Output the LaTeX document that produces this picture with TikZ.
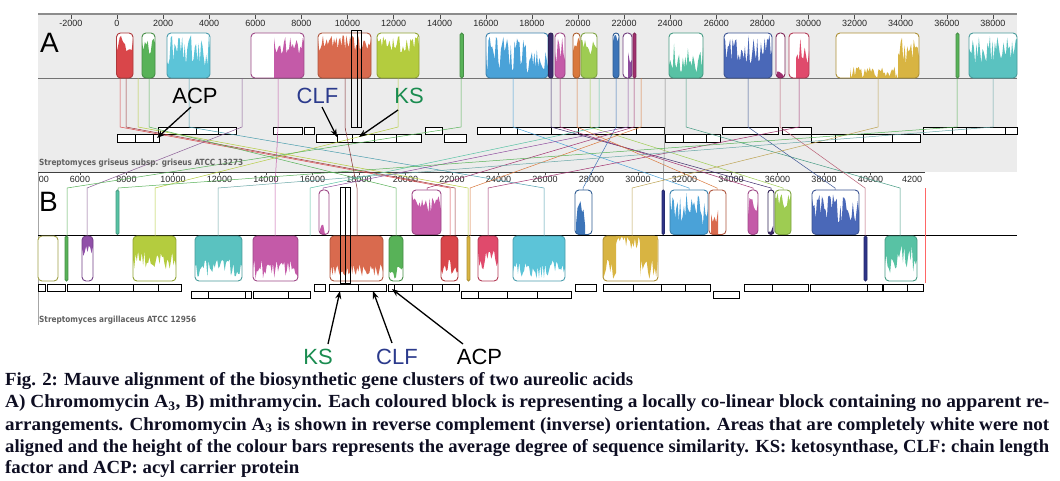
\documentclass[tikz,border=0pt]{standalone}
\usepackage{fontspec}
\setmainfont{Liberation Serif}
\setsansfont{Liberation Sans}
\newfontfamily\capfont{Liberation Serif}
\newfontfamily\uifont{Liberation Sans}
\newfontfamily\spfont{DejaVu Sans}
\usetikzlibrary{arrows.meta}
\definecolor{panelgrey}{HTML}{ECECEC}
\definecolor{capcol}{HTML}{0E0E22}
\definecolor{cRed}{HTML}{D9464A}
\definecolor{cGreen}{HTML}{58B258}
\definecolor{cCyan}{HTML}{5CC4D8}
\definecolor{cMag}{HTML}{C45AA8}
\definecolor{cOrg}{HTML}{D96A4E}
\definecolor{cYG}{HTML}{B4CC3E}
\definecolor{cBlue}{HTML}{4AA2D8}
\definecolor{cNavyT}{HTML}{3C2A6A}
\definecolor{cOrg2}{HTML}{D9783C}
\definecolor{cYG2}{HTML}{9ECC52}
\definecolor{cBlue2}{HTML}{3C74B8}
\definecolor{cPur}{HTML}{8E4C9E}
\definecolor{cDMag}{HTML}{A0306E}
\definecolor{cTeal}{HTML}{58C2A4}
\definecolor{cNavy}{HTML}{4A68B8}
\definecolor{cPink}{HTML}{E04A6C}
\definecolor{cGold}{HTML}{D8B442}
\definecolor{cTeal2}{HTML}{5AC2C0}
\definecolor{cNavy2}{HTML}{2E3488}
\definecolor{cPurB}{HTML}{9050A8}
\definecolor{cYel}{HTML}{C8C85A}
\definecolor{clfcol}{HTML}{2B3A8C}
\definecolor{kscol}{HTML}{1A8C50}
\pgfmathsetseed{7}
% profile fill: fx1 fx2 color lo hi (uses \base, \hh)
\newcommand\prof[5]{%
  \pgfmathtruncatemacro\ns{max(3,(#2-#1)/1.2)}%
  \fill[#3] (#1,\base) -- plot[domain=#1:#2,samples=\ns] (\x,{\base+\hh*(#4+(#5-#4)*rnd)}) -- (#2,\base) -- cycle;}
% block: x1 x2 ytop ybot color lo hi fx1 fx2
\newcommand\blk[9]{%
  \pgfmathsetmacro\rc{min(4,(#2-#1)/2)}%
  \begin{scope}
    \clip[rounded corners=\rc pt] (#1,#3) rectangle (#2,#4);
    \fill[white] (#1,#3) rectangle (#2,#4);
    \prof{#8}{#9}{#5}{#6}{#7}
  \end{scope}
  \draw[#5!80!black, line width=0.9pt, rounded corners=\rc pt] (#1,#3) rectangle (#2,#4);}
\newcommand\blkE[5]{%
  \pgfmathsetmacro\rc{min(4,(#2-#1)/2)}%
  \draw[#5!80!black, fill=white, line width=0.9pt, rounded corners=\rc pt] (#1,#3) rectangle (#2,#4);}
\tikzset{
  gene/.style={draw=black, fill=white, line width=0.7pt},
  conn/.style={line width=0.5pt},
  ticklab/.style={font=\uifont\fontsize{9}{9}\selectfont, text=black!85, inner sep=0},
  ann/.style={font=\uifont\fontsize{22}{22}\selectfont, inner sep=0, anchor=base},
  annarrow/.style={line width=1.3pt, -{Stealth[length=8pt,width=6pt]}},
  hl/.style={draw=black, line width=0.7pt},
  captext/.style={font=\capfont\bfseries\fontsize{18.5}{22}\selectfont, text=capcol, inner sep=0, anchor=base west},
  species/.style={font=\spfont\bfseries\fontsize{8.5}{8.5}\selectfont, text=black!62, inner sep=0, anchor=west},
  panel/.style={font=\uifont\fontsize{28}{28}\selectfont, inner sep=0, anchor=base west},
}
\begin{document}
\begin{tikzpicture}[x=1pt,y=-1pt]
\useasboundingbox (0,0) rectangle (1060,480);
\fill[white] (0,0) rectangle (1060,480);
% ---------- panel A frame
\fill[panelgrey] (38,14) rectangle (1017,172);
\draw[line width=2pt, draw=black!45] (38,14) -- (1017,14);
\draw[black!55, line width=0.6pt] (38,78) -- (1017,78);
\foreach \k [count=\i] in {-1,0,...,19}{
  \pgfmathsetmacro\px{117+\k*46.1}
  \draw[black!70] (\px,15) -- (\px,19);
  \node[ticklab] (ta\i) at (\px,23) {\the\numexpr\k*2000\relax};}
% ---------- panel B frame
\draw[black!35] (38,172) -- (38,325);
\draw[black!75, line width=0.8pt] (38,172) -- (925,172);
\draw[black, line width=0.7pt] (38,235) -- (1017,235);
\draw[red!60, line width=0.6pt] (925,188) -- (925,283);
\node[ticklab] (tb0) at (44,179) {00};
\foreach \k [count=\i] in {3,4,...,20}{
  \pgfmathsetmacro\px{80+(\k-3)*46.5}
  \draw[black!70] (\px,172) -- (\px,175);
  \node[ticklab] (tb\i) at (\px,179) {\the\numexpr\k*2000\relax};}
\node[ticklab] (tbz) at (912,179) {4200};
% ---------- gene boxes A
\foreach \a/\b in {158/196,196/218,218/236,273/302,304/314,425/442,477/500,500/517,517/551,551/578,578/636,636/664,722/778,782/811,923/952,952/966,966/1005,1005/1017}
  \draw[gene] (\a,127) rectangle (\b,134);
\foreach \a/\b in {117/135,135/153,153/159,316/337,337/352,352/374,374/396,396/421,444/466,665/683,683/706,706/720,811/835,835/863,863/892,892/920}
  \draw[gene] (\a,134) rectangle (\b,142);
% ---------- gene boxes B
\foreach \a/\b in {38/45,47/65,67/99,99/133,133/158,158/181,314/325,329/358,358/386,388/394,394/412,412/442,442/459,575/596,603/633,633/661,661/685,685/710,744/772,772/808,810/867,867/882,883/907,907/923}
  \draw[gene] (\a,284) rectangle (\b,291);
\foreach \a/\b in {191/208,208/245,245/251,253/288,288/310,461/478,478/507,507/537,537/571,713/739}
  \draw[gene] (\a,291) rectangle (\b,298);
% ---------- connections
\foreach \xa/\xb/\ye/\cc in {120/450/236/cRed, 126/455/236/cRed!70!black, 138/468/236/cYG, 149/396/236/cGreen,
  189/544/236/cCyan!80!black, 242/87/236/cPur!70!gray, 278/275/236/cMag, 345/357/236/cRed!60!black, 398/155/236/cYG,
  461/67/236/cGreen, 513/689/190/cBlue, 551/771/190/cNavyT, 560/753/190/cDMag, 577/717/190/cOrg2, 590/783/190/cYG2,
  599/310/236/cTeal, 616/583/190/cBlue2, 628/323/190/cPur, 634/427/190/cDMag, 641/470/236/cOrg2, 665/663/190/black!50,
  686/900/236/cTeal!80!black, 748/835/190/cNavy!80!black, 780/865/236/cPink!60!gray, 799/488/236/cDMag,
  878/632/236/cGold!70!gray, 957/118/190/cGreen, 993/218/236/cTeal2!60!gray}
  \draw[conn,\cc] (\xa,78) -- (\xa,127) -- (\xb,188) -- (\xb,\ye);
% ---------- blocks A (upper)
\def\base{78}\def\hh{-45}
\blk{116.5}{133}{33}{78}{cRed}{0.55}{0.95}{117}{133}
\blk{142}{155}{33}{78}{cGreen}{0.45}{0.9}{142}{155}
\blk{167}{210}{33}{78}{cCyan}{0.25}{0.95}{167}{210}
\blk{251}{304}{33}{78}{cMag}{0.5}{0.95}{274}{304}
\blk{318}{371}{33}{78}{cOrg}{0.6}{0.95}{318}{371}
\blk{377}{419}{33}{78}{cYG}{0.55}{0.95}{377}{419}
\blk{460}{463.5}{33}{78}{cGreen}{1}{1}{460}{463.5}
\blk{486}{548}{33}{78}{cBlue}{0.1}{0.95}{486}{548}
\blk{548.5}{553}{33}{78}{cNavyT}{1}{1}{548.5}{553}
\blk{555}{565}{33}{78}{cMag}{0.3}{0.9}{555}{565}
\blk{573}{580}{33}{78}{cOrg2}{0.5}{0.95}{573}{580}
\blk{581}{597}{33}{78}{cYG2}{0.5}{0.9}{581}{597}
\blk{613}{619}{33}{78}{cBlue2}{0.8}{1}{613}{619}
\blk{623}{632}{33}{78}{cPur}{0.3}{0.9}{628}{632}
\blk{633}{636}{33}{78}{cDMag}{1}{1}{633}{636}
\blk{669}{703}{33}{78}{cTeal}{0.1}{0.85}{669}{703}
\blk{724}{772}{33}{78}{cNavy}{0.3}{0.95}{724}{772}
\blk{776}{785}{33}{78}{cDMag}{0}{0.2}{777}{784}
\blk{789}{809}{33}{78}{cPink}{0.3}{0.9}{796}{809}
\blk{836}{919}{33}{78}{cGold}{0.3}{0.9}{898}{919}
\prof{850}{897}{cGold}{0}{0.25}
\blk{956}{959}{33}{78}{cGreen}{1}{1}{956}{959}
\blk{969}{1017}{33}{78}{cTeal2}{0.3}{0.95}{969}{1017}
% ---------- blocks B upper
\def\base{235}\def\hh{-45}
\blk{116}{119}{190}{234.5}{cTeal}{1}{1}{116}{119}
\blk{319}{329}{190}{234.5}{cMag}{0}{0.4}{320}{328}
\blk{412}{441}{190}{234.5}{cMag}{0.5}{0.95}{412}{441}
\blk{575}{592}{190}{234.5}{cBlue2}{0.2}{0.8}{576}{585}
\blk{662}{664.5}{190}{234.5}{cNavy2}{1}{1}{662}{664.5}
\blk{670}{708}{190}{234.5}{cBlue}{0.2}{0.95}{670}{708}
\blk{709}{726}{190}{234.5}{cOrg}{0.2}{0.55}{711}{718}
\blk{748}{758}{190}{234.5}{cMag}{0.4}{0.9}{748}{758}
\blk{768}{774}{190}{234.5}{cNavyT}{0}{0.3}{769}{773}
\blk{775}{791}{190}{234.5}{cYG2}{0.6}{0.95}{775}{791}
\blk{812}{859}{190}{234.5}{cNavy}{0.2}{0.95}{812}{859}
% ---------- blocks B lower (hanging)
\def\base{236}\def\hh{45}
\blkE{38}{58}{236}{281}{cYel}
\blk{65}{68}{236}{281}{cGreen}{1}{1}{65}{68}
\blk{82}{93}{236}{281}{cPurB}{0.2}{0.5}{82}{93}
\blk{133}{176}{236}{281}{cYG}{0.3}{0.75}{133}{176}
\blk{195}{242}{236}{281}{cTeal2}{0.5}{0.9}{195}{242}
\blk{253}{298}{236}{281}{cMag}{0.5}{0.95}{253}{298}
\blk{330}{383}{236}{281}{cOrg}{0.6}{0.9}{330}{383}
\blk{389}{403}{236}{281}{cGreen}{0.6}{0.95}{389}{403}
\blk{441}{458}{236}{281}{cRed}{0.5}{0.85}{441}{458}
\blk{467}{470}{236}{281}{cGold}{1}{1}{467}{470}
\blk{478}{498}{236}{281}{cPink}{0.3}{0.8}{478}{498}
\blk{513}{565}{236}{281}{cCyan}{0.5}{0.95}{513}{565}
\blk{603}{658}{236}{281}{cGold}{0.5}{0.95}{603}{616}
\prof{616}{640}{cGold}{0}{0.3}
\prof{640}{657.5}{cGold}{0.5}{0.95}
\blk{864}{867}{236}{281}{cNavy2}{1}{1}{864}{867}
\blk{885}{917}{236}{281}{cTeal}{0.2}{0.85}{885}{917}
% ---------- highlight rectangles
\draw[hl] (351.5,30) rectangle (357.5,127);
\draw[hl] (357.5,30) rectangle (361.5,127);
\draw[hl] (340.5,187) rectangle (345,283);
\draw[hl] (345,187) rectangle (350,283);
% ---------- panel letters and species
\node[panel] (pA) at (40,52) {A};
\node[panel] (pB) at (39,211) {B};
\node[species] (spA) at (39,163) {\resizebox{204pt}{\height}{Streptomyces griseus subsp. griseus ATCC 13273}};
\node[species] (spB) at (39,320) {\resizebox{157pt}{\height}{Streptomyces argillaceus ATCC 12956}};
% ---------- annotations A
\node[ann] (acpA) at (195,103) {ACP};
\node[ann, text=clfcol] (clfA) at (317.5,103) {CLF};
\node[ann, text=kscol] (ksA) at (409,103) {KS};
\coordinate (acpA1) at (191,107); \coordinate (acpA2) at (157,138);
\coordinate (clfA1) at (322,107); \coordinate (clfA2) at (337,137);
\coordinate (ksA1) at (398,110);  \coordinate (ksA2) at (359,137);
\draw[annarrow] (acpA1) -- (acpA2);
\draw[annarrow] (clfA1) -- (clfA2);
\draw[annarrow] (ksA1) -- (ksA2);
% ---------- annotations B
\node[ann, text=kscol] (ksB) at (318,364) {KS};
\node[ann, text=clfcol] (clfB) at (397,364) {CLF};
\node[ann] (acpB) at (479.5,364) {ACP};
\coordinate (ksB1) at (328,344);  \coordinate (ksB2) at (340,291);
\coordinate (clfB1) at (392,343); \coordinate (clfB2) at (373,291);
\coordinate (acpB1) at (463,344); \coordinate (acpB2) at (392,289);
\draw[annarrow] (ksB1) -- (ksB2);
\draw[annarrow] (clfB1) -- (clfB2);
\draw[annarrow] (acpB1) -- (acpB2);
% ---------- caption
\node[captext] (c1) at (5,385.7) {\resizebox{628pt}{\height}{Fig. 2: Mauve alignment of the biosynthetic gene clusters of two aureolic acids}};
\node[captext] (c2) at (5,407.5) {\resizebox{1044pt}{\height}{A) Chromomycin A\textsubscript{3}, B) mithramycin. Each coloured block is representing a locally co-linear block containing no apparent re-}};
\node[captext] (c3) at (5,430) {\resizebox{1044pt}{\height}{arrangements. Chromomycin A\textsubscript{3} is shown in reverse complement (inverse) orientation. Areas that are completely white were not}};
\node[captext] (c4) at (5,452) {\resizebox{1044pt}{\height}{aligned and the height of the colour bars represents the average degree of sequence similarity. KS: ketosynthase, CLF: chain length}};
\node[captext] (c5) at (5,473.6) {\resizebox{294pt}{\height}{factor and ACP: acyl carrier protein}};
\end{tikzpicture}
\end{document}
